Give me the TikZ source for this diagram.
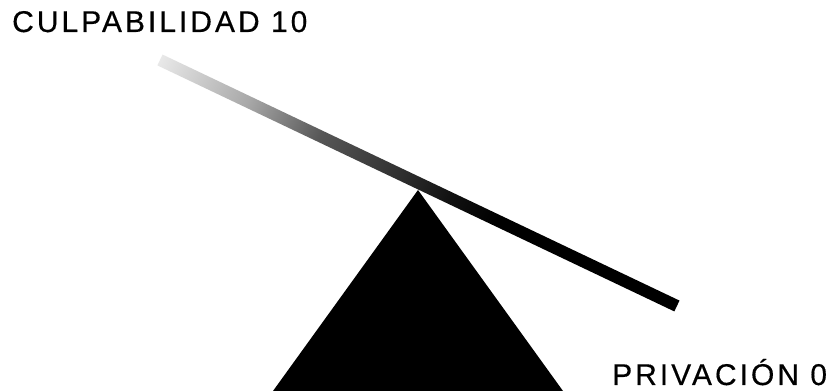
\documentclass[tikz,border=0pt]{standalone}
\usepackage{fontspec}
\setmainfont{Liberation Sans}[LetterSpace=10, FakeBold=0.4]
\pgfdeclarehorizontalshading{beamshade}{100bp}{%
  color(0bp)=(black!9);
  color(25bp)=(black!9);
  color(33.5bp)=(black!34);
  color(40.5bp)=(black!66);
  color(48bp)=(black!81);
  color(53bp)=(black!93);
  color(57.5bp)=(black);
  color(100bp)=(black)}
\tikzset{
  lbl/.style={anchor=base west, inner sep=0pt, font=\fontsize{30}{32}\selectfont, text=black},
}
\begin{document}
\begin{tikzpicture}[x=1pt,y=1pt]
\useasboundingbox (0,0) rectangle (828,391);
\fill[white] (0,0) rectangle (828,391);
% fulcrum
\fill[black] (273,0) -- (418,201) -- (563,0) -- cycle;
% beam
\begin{scope}[transform canvas={shift={(160pt,331pt)}, rotate=-25.45}]
  \shade[shading=beamshade] (0,-6) rectangle (572.5,6);
\end{scope}
% labels
\node[lbl] (culpa) at (12,359) {CULPABILIDAD 10};
\node[lbl] (priva) at (612,6) {PRIVACIÓN 0};
\end{tikzpicture}
\end{document}
